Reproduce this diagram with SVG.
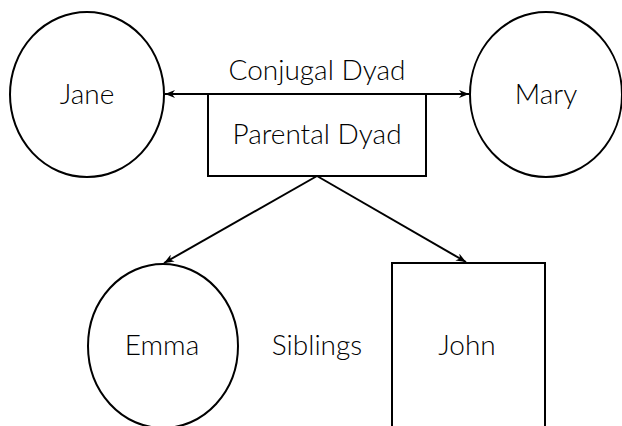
<svg xmlns="http://www.w3.org/2000/svg" width="622" height="426" viewBox="0 0 622 426">
<defs>
<style>
.n{fill:#fff;stroke:#000;stroke-width:2}
.e{fill:none;stroke:#000;stroke-width:2}
text{font-family:Lato,"Liberation Sans",sans-serif;font-weight:300;font-size:28px;fill:#000;text-anchor:middle}
</style>
<marker id="ah" viewBox="0 0 10 8" refX="10" refY="4" markerWidth="10" markerHeight="8" markerUnits="userSpaceOnUse" orient="auto-start-reverse">
<path d="M0,0 L10,4 L0,8 L3,4 Z" fill="#000"/>
</marker>
</defs>
<rect width="622" height="426" fill="#fff"/>
<g id="jane"><ellipse class="n" cx="87" cy="94.5" rx="77" ry="82.5"/><text x="87" y="103.5">Jane</text></g>
<g id="mary"><ellipse class="n" cx="546" cy="94.5" rx="76" ry="82.5"/><text x="546" y="103.5">Mary</text></g>
<g id="parental"><rect class="n" x="208" y="94" width="218" height="82"/><text x="317" y="144">Parental Dyad</text></g>
<g id="emma"><ellipse class="n" cx="163" cy="346" rx="75" ry="82"/><text x="162" y="355">Emma</text></g>
<g id="john"><rect class="n" x="392" y="263" width="153" height="180"/><text x="467" y="355">John</text></g>
<g id="connectors">
<line class="e" x1="165" y1="94" x2="469" y2="94" marker-start="url(#ah)" marker-end="url(#ah)"/>
<line class="e" x1="317" y1="176" x2="164" y2="263" marker-end="url(#ah)"/>
<line class="e" x1="317" y1="176" x2="466" y2="262" marker-end="url(#ah)"/>
</g>
<g id="labels">
<text x="317" y="80">Conjugal Dyad</text>
<text x="317" y="355">Siblings</text>
</g>
</svg>
